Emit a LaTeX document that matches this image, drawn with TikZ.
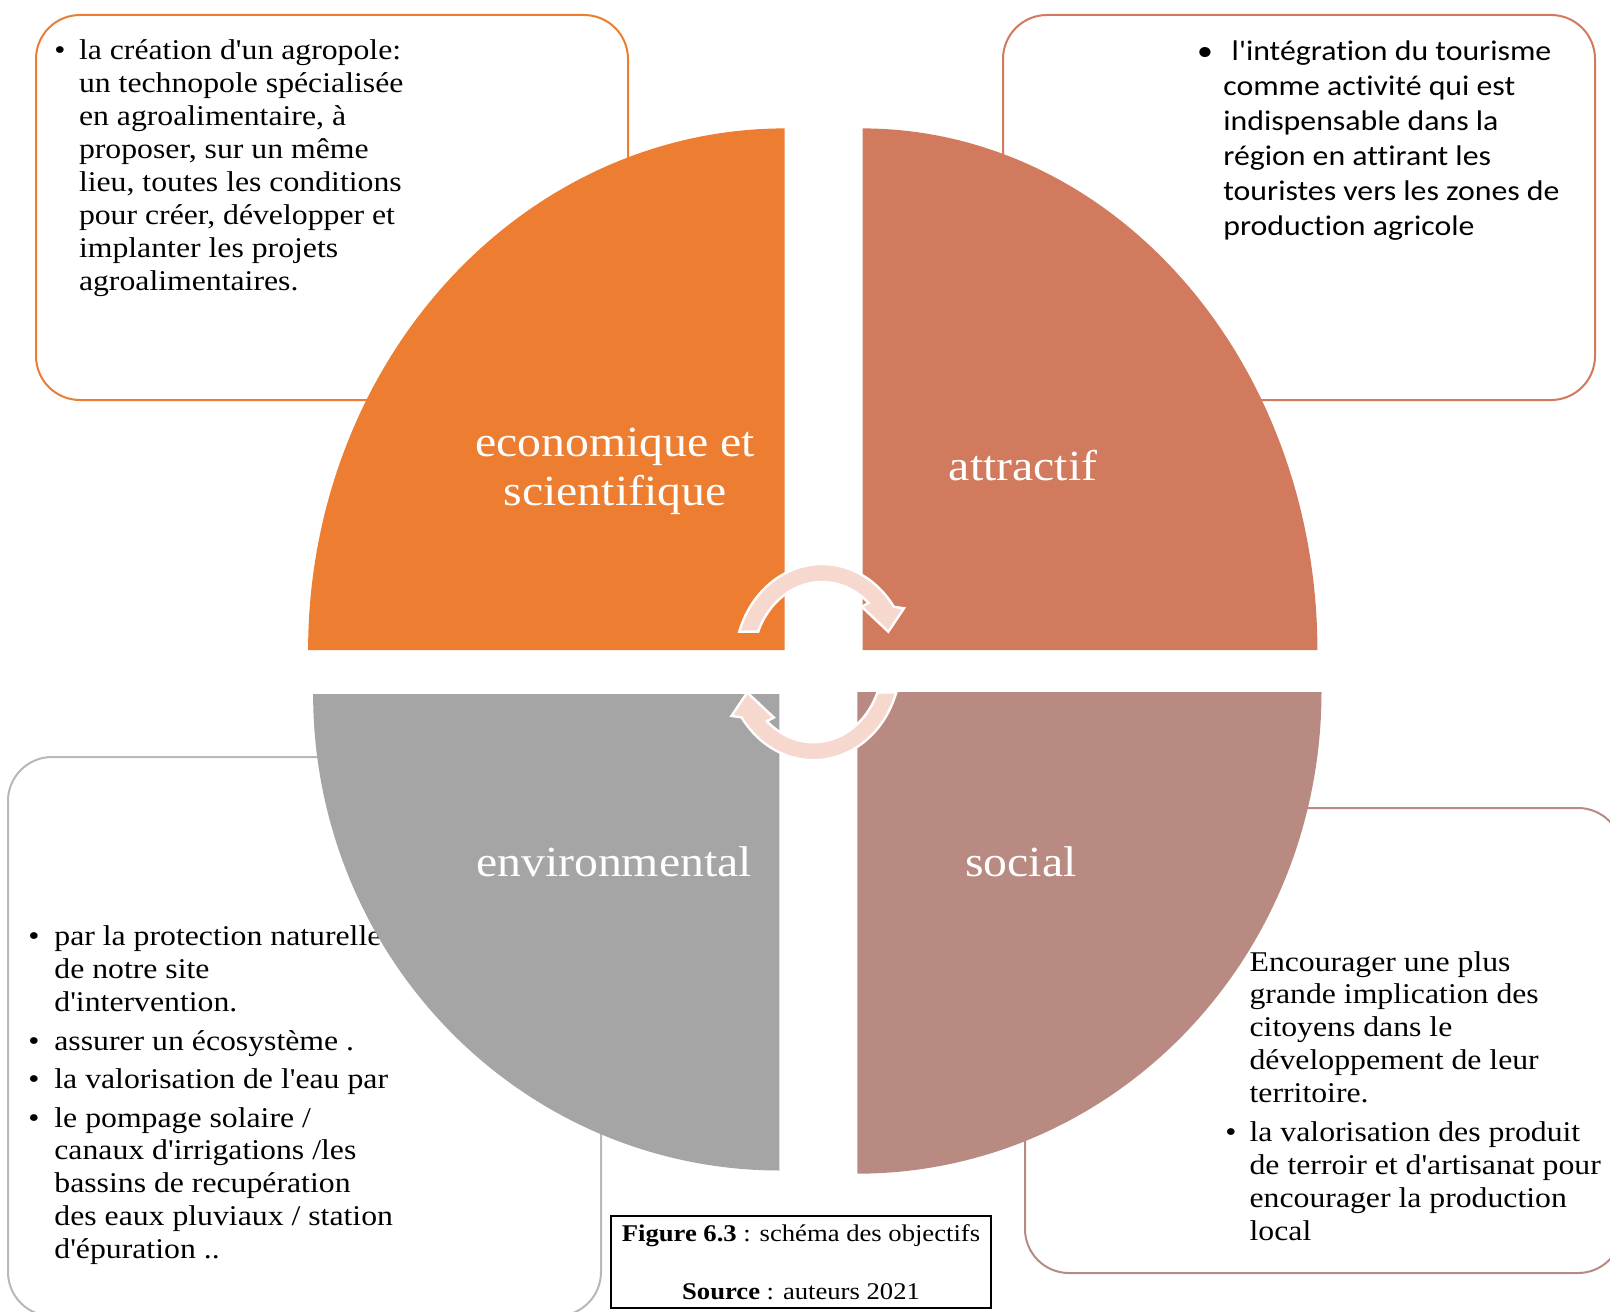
\documentclass[tikz,border=0pt]{standalone}
\usepackage{fontspec}
\newfontfamily\serifA{Liberation Serif}[FakeStretch=1.11, Ligatures=NoCommon]
\newfontfamily\sansA{Carlito}[FakeStretch=1.12, Ligatures=NoCommon]
\newcommand\bodyfont{\serifA\fontsize{14.3pt}{16.45pt}\selectfont}
\newcommand\tourfont{\sansA\fontsize{14.2pt}{17.45pt}\selectfont}
\newcommand\labfont{\serifA\fontsize{21.5pt}{24.6pt}\selectfont}
\newcommand\capfont{\serifA\fontsize{12pt}{14pt}\selectfont}
\definecolor{cOrange}{HTML}{ED7D31}
\definecolor{cTerra}{HTML}{D17A5E}
\definecolor{cGray}{HTML}{A5A5A5}
\definecolor{cRose}{HTML}{B98A82}
\definecolor{cArrow}{HTML}{F7D8CE}
\definecolor{cGrayLine}{HTML}{B8B8B8}
\tikzset{
  infobox/.style={line width=1pt, fill=white, rounded corners=22pt},
  txt/.style={anchor=base west, inner sep=0pt, outer sep=0pt, text=black},
  bul/.style={anchor=base, inner sep=0pt, outer sep=0pt, text=black},
  lab/.style={anchor=base, inner sep=0pt, outer sep=0pt, text=white},
  cyclearrow/.style={fill=cArrow, draw=white, line width=1.2pt, line join=miter},
  capline/.style={anchor=base, inner sep=0pt, outer sep=0pt, text=black}
}
\begin{document}
\begin{tikzpicture}[x=0.5pt, y=-0.5pt]
\path[use as bounding box] (0,0) rectangle (1610,1311);
\clip (0,0) rectangle (1610,1311);
\fill[white] (0,0) rectangle (1610,1311);

% boxes
\draw[infobox, draw=cOrange] (36,15) rectangle (628,400);
\draw[infobox, draw=cTerra] (1003,15) rectangle (1595,400);
\draw[infobox, draw=cGrayLine] (8,757) rectangle (601,1316);
\draw[infobox, draw=cRose] (1025,808) rectangle (1622,1273);

% top-left text
\node[bul] (tlb) at (60,60) {\bodyfont •};
\node[txt] (tlt) at (79,60) {\parbox[t]{330pt}{\bodyfont la création d'un agropole:\\
un technopole spécialisée\\
en agroalimentaire, à\\
proposer, sur un même\\
lieu, toutes les conditions\\
pour créer, développer et\\
implanter les projets\\
agroalimentaires.}};

% top-right text
\node[bul] (trb) at (1205,60.7) {\tourfont •};
\node[txt] (trt) at (1223.3,60.7) {\parbox[t]{330pt}{\tourfont \hspace*{4.2pt}l'intégration du tourisme\\
comme activité qui est\\
indispensable dans la\\
région en attirant les\\
touristes vers les zones de\\
production agricole}};

% bottom-left text
\node[bul] (blb1) at (34,945.5) {\bodyfont •};
\node[txt] (blt1) at (54.4,945.5) {\parbox[t]{330pt}{\bodyfont par la protection naturelle\\
de notre site\\
d'intervention.}};
\node[bul] (blb2) at (34,1050) {\bodyfont •};
\node[txt] (blt2) at (54.4,1050) {\bodyfont assurer un écosystème .};
\node[bul] (blb3) at (34,1088) {\bodyfont •};
\node[txt] (blt3) at (54.4,1088) {\bodyfont la valorisation de l'eau par};
\node[bul] (blb4) at (34,1127) {\bodyfont •};
\node[txt] (blt4) at (54.4,1127) {\parbox[t]{330pt}{\bodyfont le pompage solaire /\\
canaux d'irrigations /les\\
bassins de recupération\\
des eaux pluviaux / station\\
d'épuration ..}};

% bottom-right text
\node[txt] (brt1) at (1249.6,971) {\parbox[t]{330pt}{\bodyfont Encourager une plus\\
grande implication des\\
citoyens dans le\\
développement de leur\\
territoire.}};
\node[bul] (brb2) at (1231,1141.6) {\bodyfont •};
\node[txt] (brt2) at (1249.6,1141.6) {\parbox[t]{330pt}{\bodyfont la valorisation des produit\\
de terroir et d'artisanat pour\\
encourager la production\\
local}};

% quadrants
\fill[cOrange] (784.5,650) -- plot[domain=180:270,samples=90] ({784.5+476.4*cos(\x)},{650+521.6*sin(\x)}) -- cycle;
\fill[cTerra] (862.5,650) -- plot[domain=270:360,samples=90] ({862.5+454.9*cos(\x)},{650+521.6*sin(\x)}) -- cycle;
\fill[cGray] (779.3,694.1) -- plot[domain=90:180,samples=90] ({779.3+466.2*cos(\x)},{694.1+476.4*sin(\x)}) -- cycle;
\fill[cRose] (857.4,692.1) -- plot[domain=0:90,samples=90] ({857.4+464.1*cos(\x)},{692.1+481.6*sin(\x)}) -- cycle;

% labels
\node[lab] (eco) at (615,456.5) {\parbox[t]{300pt}{\centering\labfont economique et\\ scientifique}};
\node[lab] (attr) at (1023,480) {\labfont attractif};
\node[lab] (env) at (614,876) {\labfont environmental};
\node[lab] (soc) at (1021,876) {\labfont social};

% cycle arrows
\filldraw[cyclearrow] plot[domain=198:325.7,samples=60] ({822+87*cos(\x)},{662+98*sin(\x)})
  -- (904,608.3) -- (888.3,631.7) -- (861.7,606.7)
  -- plot[domain=312.5:202.3,samples=60] ({822+69*cos(\x)},{662+80*sin(\x)}) -- cycle;
\begin{scope}[rotate around={180:(817.75,662.1)}]
\filldraw[cyclearrow] plot[domain=198:325.7,samples=60] ({822+87*cos(\x)},{662+98*sin(\x)})
  -- (904,608.3) -- (888.3,631.7) -- (861.7,606.7)
  -- plot[domain=312.5:202.3,samples=60] ({822+69*cos(\x)},{662+80*sin(\x)}) -- cycle;
\end{scope}

% caption
\draw[black, line width=0.8pt, fill=white] (611,1216) rectangle (991,1308);
\node[capline] (cap1) at (801,1241.5) {\capfont\textbf{Figure 6.3} : schéma des objectifs};
\node[capline] (cap2) at (801,1299) {\capfont\textbf{Source} : auteurs 2021};
\end{tikzpicture}
\end{document}
